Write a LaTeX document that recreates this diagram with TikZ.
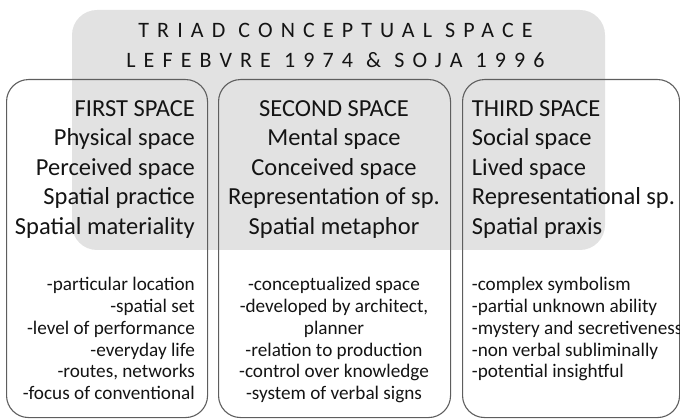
\documentclass[tikz,border=0pt]{standalone}
\usepackage{fontspec}
\setmainfont{Carlito}
\newfontfamily\spacedcaps[LetterSpace=37]{Carlito}
\definecolor{panel}{HTML}{E2E2E2}
\definecolor{rim}{HTML}{5E5E5E}
\definecolor{ink}{HTML}{141414}

\begin{document}
\begin{tikzpicture}[x=1pt,y=-1pt,
  heading/.style={font=\spacedcaps\fontsize{22}{26}\selectfont, text=ink, inner sep=0pt, anchor=base},
  big/.style={font=\fontsize{24.5}{29}\selectfont, text=ink, inner sep=0pt},
  small/.style={font=\fontsize{19.2}{22}\selectfont, text=ink, inner sep=0pt},
  column/.style={draw=rim, line width=1.1pt, rounded corners=22pt, inner sep=0pt,
                 minimum height=338pt, anchor=north west}]
\useasboundingbox (0,0) rectangle (680,419);
\clip (0,0) rectangle (680,419);

% shaded title panel behind the three columns
\fill[panel, rounded corners=25pt] (72,10) rectangle (605,250);
\node[heading] (title1) at (335.5,37.7) {TRIAD CONCEPTUAL SPACE};
\node[heading] (title2) at (335.5,67.7) {LEFEBVRE 1974 \& SOJA 1996};

% the three columns
\node[column, minimum width=201pt] (first)  at (6,79)   {};
\node[column, minimum width=232pt] (second) at (218,79) {};
\node[column, minimum width=217pt] (third)  at (462,79) {};

% first space: right aligned
\foreach \s [count=\i] in {FIRST SPACE, Physical space, Perceived space,
    Spatial practice, Spatial materiality}
  \node[big, anchor=base east] (fa\i) at (195,{116.5+29.5*(\i-1)}) {\s};
\foreach \s [count=\i] in {-particular location, -spatial set,
    -level of performance, -everyday life, {-routes, networks},
    -focus of conventional}
  \node[small, anchor=base east] (fb\i) at (195,{290.7+21.8*(\i-1)}) {\s};

% second space: centred
\foreach \s [count=\i] in {SECOND SPACE, Mental space, Conceived space,
    Representation of sp., Spatial metaphor}
  \node[big, anchor=base] (sa\i) at (334,{116.5+29.5*(\i-1)}) {\s};
\foreach \s [count=\i] in {-conceptualized space, {-developed by architect,},
    planner, -relation to production, -control over knowledge,
    -system of verbal signs}
  \node[small, anchor=base] (sb\i) at (334,{290.7+21.8*(\i-1)}) {\s};

% third space: left aligned
\foreach \s [count=\i] in {THIRD SPACE, Social space, Lived space,
    Representational sp., Spatial praxis}
  \node[big, anchor=base west] (ta\i) at (471.7,{116.5+29.5*(\i-1)}) {\s};
\foreach \s [count=\i] in {-complex symbolism, -partial unknown ability,
    -mystery and secretiveness, -non verbal subliminally,
    -potential insightful}
  \node[small, anchor=base west] (tb\i) at (471.7,{290.7+21.8*(\i-1)}) {\s};
\end{tikzpicture}
\end{document}
